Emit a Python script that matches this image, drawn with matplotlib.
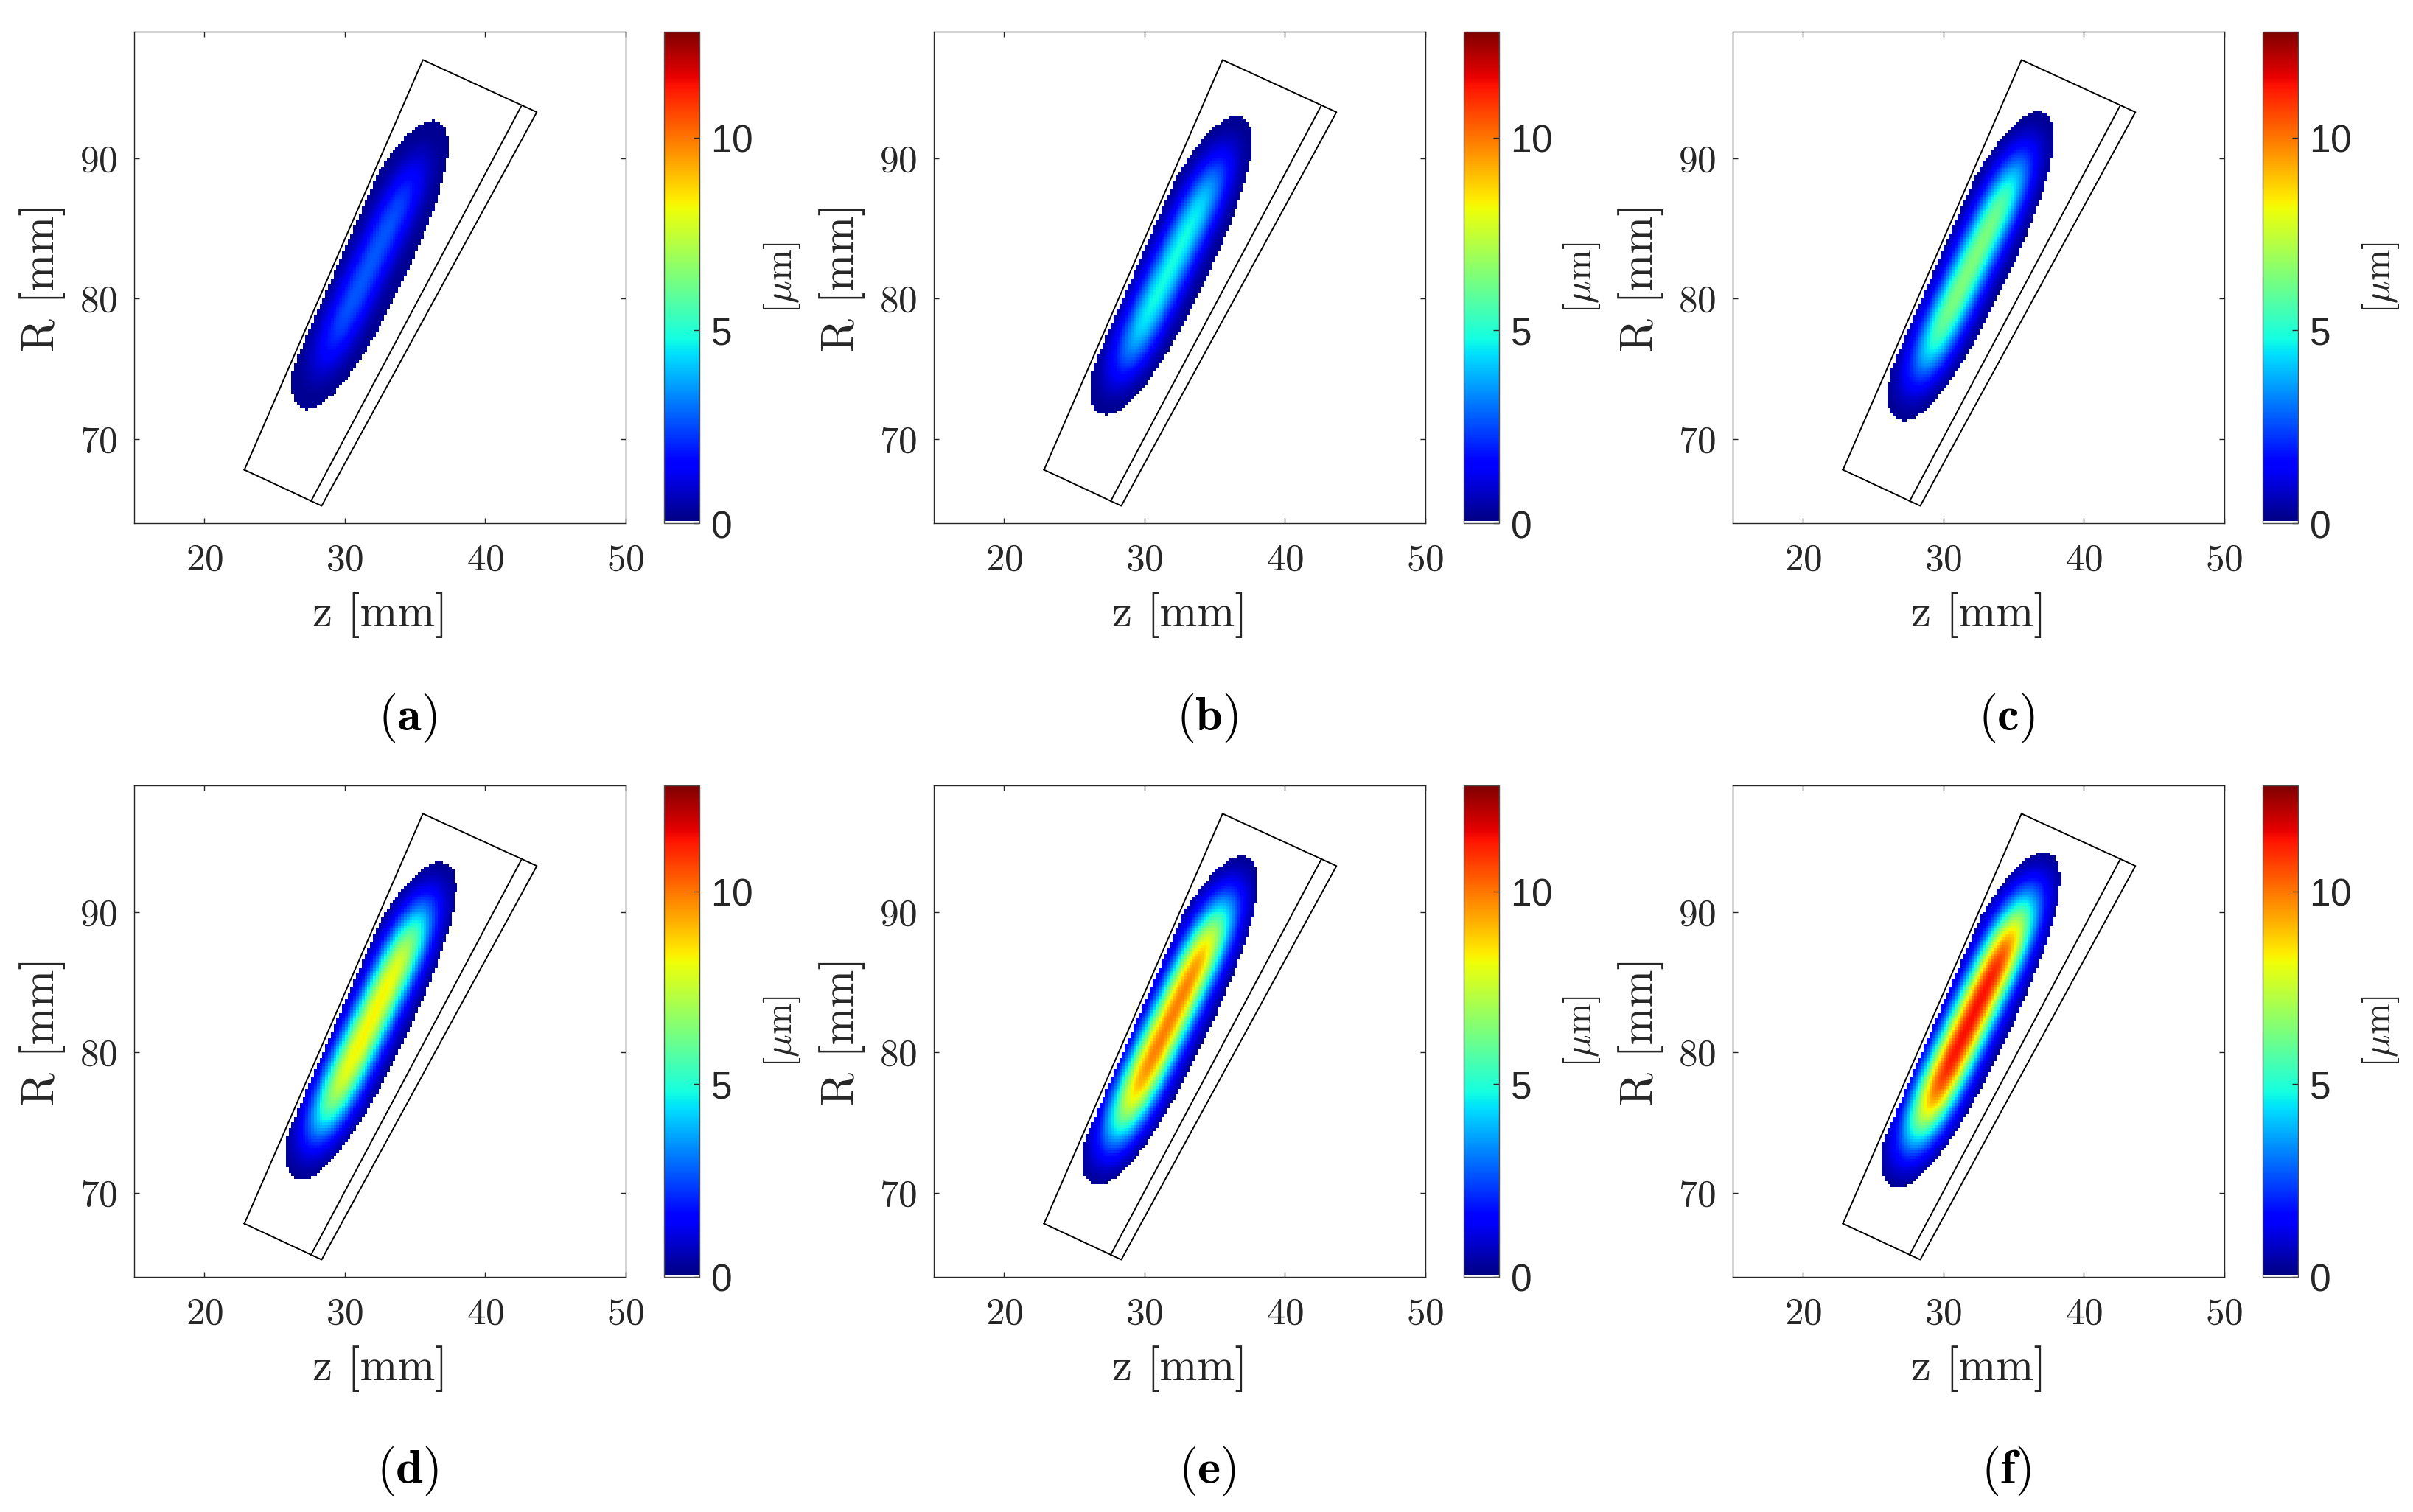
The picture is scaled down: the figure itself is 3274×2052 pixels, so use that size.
import numpy as np
import matplotlib.pyplot as plt
from matplotlib.colors import ListedColormap, Normalize

plt.rcParams['mathtext.fontset'] = 'cm'
plt.rcParams['font.family'] = 'serif'
plt.rcParams['font.serif'] = ['cmr10']
plt.rcParams['axes.formatter.use_mathtext'] = True

# values
labels = ['a', 'b', 'c', 'd', 'e', 'f']
peak = [2.7, 4.8, 6.4, 8.3, 9.9, 11.4]           # max thickness [um]
z_c = [31.8, 31.9, 31.95, 31.85, 31.8, 31.95]     # blob centre z [mm]
R_c = [82.4, 82.35, 82.3, 82.25, 82.25, 82.3]     # blob centre R [mm]
half_len = [11.3, 11.7, 12.1, 12.4, 12.85, 13.1]  # along the strip
half_wid = [2.6, 2.65, 2.7, 2.75, 2.8, 2.85]      # across the strip
z_clip = [37.7, 37.95, 38.2, 38.4, 38.4, 38.7]
tilt = 64.5  # deg

# outline of the part (z, R)
box_z = [22.85, 35.56, 43.67, 28.35, 22.85]
box_R = [67.80, 96.99, 93.27, 65.23, 67.80]
inner_z = [42.55, 27.60]
inner_R = [93.67, 65.58]

vmax = 12.75
cb_ticks = [0, 5, 10]

# colormap: jet with lowest entry white
jet = plt.get_cmap('jet')(np.linspace(0, 1, 256))
jet[0] = [1, 1, 1, 1]
cmap = ListedColormap(jet)
norm = Normalize(0, vmax)

W, H = 3274, 2052
fig = plt.figure(figsize=(W / 100, H / 100), dpi=100)

col_x = [182, 1267, 2351]
row_y = [43, 1066]
side = 667

# grid
step = 0.2
ze = np.arange(15, 50 + step / 2, step)
Re = np.arange(64, 99 + step / 2, step)
Z, R = np.meshgrid(ze[:-1] + step / 2, Re[:-1] + step / 2)
th = np.deg2rad(tilt)
ex, ey = np.cos(th), np.sin(th)
# left side of the box, used as cut
slope = (box_z[1] - box_z[0]) / (box_R[1] - box_R[0])
z_left = box_z[0] + (R - box_R[0]) * slope + 0.3


def fx(x):
    return x / W


def fy(y):
    return 1 - y / H


for i in range(6):
    r, c = divmod(i, 3)
    x0 = col_x[c]
    y0 = row_y[r]
    ax = fig.add_axes([fx(x0), fy(y0 + side), side / W, side / H])

    u = (Z - z_c[i]) * ex + (R - R_c[i]) * ey
    v = (Z - z_c[i]) * ey - (R - R_c[i]) * ex
    un = np.abs(u) / half_len[i]
    vn = np.abs(v) / half_wid[i]
    h = peak[i] * np.exp(-(un / 0.72) ** 4 - (vn / 0.53) ** 2)
    inside = (un ** 2.4 + vn ** 2.2 <= 1) & (Z >= z_left) & (Z <= z_clip[i])
    h = np.where(inside, np.maximum(h, 0.2), np.nan)

    mesh = ax.pcolormesh(ze, Re, h, cmap=cmap, norm=norm)
    ax.plot(box_z, box_R, color='k', lw=1.4)
    ax.plot(inner_z, inner_R, color='k', lw=1.4)

    ax.set_xlim(15, 50)
    ax.set_ylim(64, 99)
    ax.set_xticks([20, 30, 40, 50])
    ax.set_yticks([70, 80, 90])
    ax.tick_params(direction='in', top=True, right=True, length=5, width=1,
                   color='0.15', labelcolor='0.15', labelsize=37)
    ax.tick_params(axis='x', pad=20)
    ax.tick_params(axis='y', pad=16)
    for s in ax.spines.values():
        s.set_color('0.15')
        s.set_linewidth(1)

    cax = fig.add_axes([fx(x0 + side + 52), fy(y0 + side), 48 / W, side / H])
    cb = fig.colorbar(mesh, cax=cax, ticks=cb_ticks)
    cb.outline.set_edgecolor('0.3')
    cb.outline.set_linewidth(1)
    cax.tick_params(direction='in', length=6, width=1, color='0.15',
                    labelcolor='0.15', pad=11, labelsize=37)
    for t in cax.get_yticklabels():
        t.set_fontfamily('Liberation Sans')

    # labels
    fig.text(fx(x0 + side / 2), fy(y0 + 792), 'z [mm]', ha='center',
             va='center', fontsize=44, color='0.15')
    fig.text(fx(x0 - 124), fy(y0 + side / 2), 'R [mm]', ha='center',
             va='center', rotation=90, fontsize=44, color='0.15')
    fig.text(fx(x0 + 879), fy(y0 + side / 2), r'[$\mu$m]', ha='center',
             va='center', rotation=90, fontsize=37, color='0.15')
    fig.text(fx(x0 + 371), fy(y0 + 931), r'$(\mathbf{%s})$' % labels[i],
             ha='center', va='center', fontsize=48, color='k')

fig.savefig('out.png', dpi=100)
